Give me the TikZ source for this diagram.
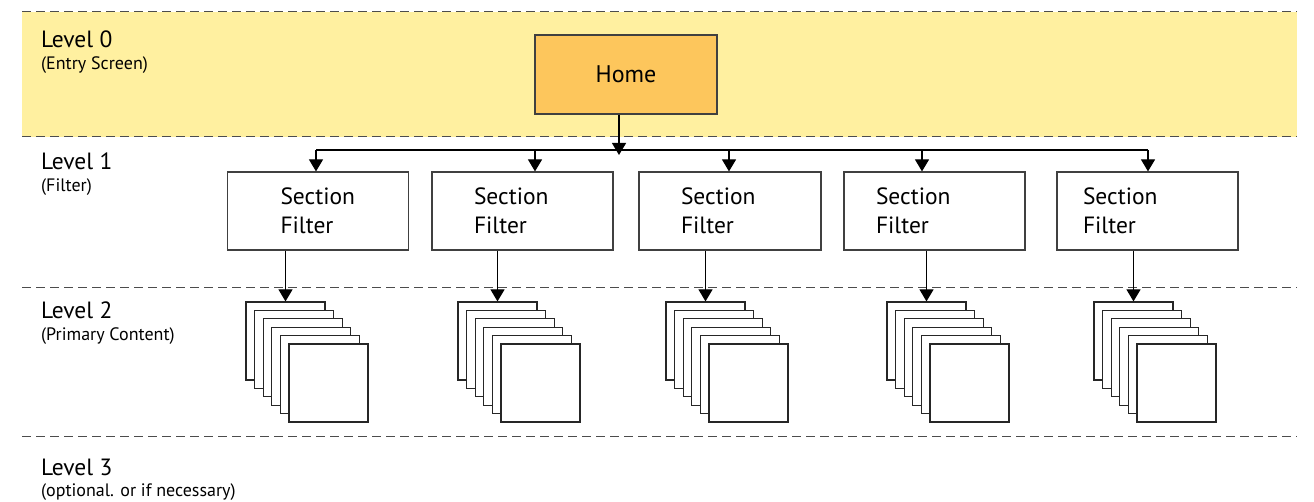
\documentclass[tikz,border=0pt]{standalone}
\usepackage{fontspec}
\setmainfont{PT Sans}
\usetikzlibrary{arrows.meta}
\definecolor{bandyellow}{RGB}{255,240,160}
\definecolor{homeorange}{RGB}{253,198,92}

\begin{document}
\begin{tikzpicture}[x=1pt, y=-1pt,
    arrow/.style = {draw, line width=1.2pt, -{Triangle[width=14pt,length=12pt]}},
    levelline/.style = {draw=black!70, line width=1pt, dash pattern=on 9pt off 5pt},
    levelname/.style = {anchor=base west, inner sep=0pt, font=\fontsize{23.5}{28}\selectfont},
    levelnote/.style = {anchor=base west, inner sep=0pt, font=\fontsize{18}{21}\selectfont},
    homebox/.style = {draw=black!75, line width=1.2pt, fill=homeorange, minimum width=182pt, minimum height=79pt, font=\fontsize{24}{28}\selectfont},
    filterbox/.style = {draw=black!75, line width=1.2pt, fill=white, minimum height=78pt, align=left, font=\fontsize{23.5}{29}\selectfont},
    page/.style = {draw=black!85, line width=1.2pt, fill=white, minimum width=79pt, minimum height=78pt, inner sep=0pt}]

    \useasboundingbox (0,0) rectangle (1314,502);
    \fill[bandyellow] (22,12) rectangle (1297,137);
    \foreach \y in {12, 137, 288, 436}
        \draw[levelline] (22,\y) -- (1297,\y);

    % level labels
    \node[levelname] (lvl0) at (41,48) {Level 0};
    \node[levelnote] (note0) at ([yshift=-22pt]lvl0.base west) {(Entry Screen)};
    \node[levelname] (lvl1) at (41,170) {Level 1};
    \node[levelnote] (note1) at ([yshift=-22pt]lvl1.base west) {(Filter)};
    \node[levelname] (lvl2) at (41,319) {Level 2};
    \node[levelnote] (note2) at ([yshift=-22pt]lvl2.base west) {(Primary Content)};
    \node[levelname] (lvl3) at (41,475) {Level 3};
    \node[levelnote] (note3) at ([yshift=-21pt]lvl3.base west) {(optional. or if necessary)};

    \node[homebox] (home) at (626,74.5) {Home};
    \coordinate (hub) at (619,155);

    % filters and their page stacks
    \foreach \i/\fx/\bx/\sx/\pad/\tw in {1/318/316/246/53/75, 2/522.5/535/458/42/97, 3/730/729/666/42/98,
                                         4/934.5/922/887/32/117, 5/1147.5/1148/1094/26/129} {
        \node[filterbox, inner xsep=\pad pt, text width=\tw pt] (filter\i) at (\fx,211) {Section\\Filter};
        \coordinate (branch\i) at (\bx,150);
        \draw[arrow] (branch\i) -- (branch\i |- filter\i.north);
        \foreach \j in {0,...,5}
            \node[page] (page\i-\j) at ({\sx+39.5+8.6*\j},{341+8.4*\j}) {};
        \draw[arrow] (page\i-0.north |- filter\i.south) -- (page\i-0.north);
    }

    \draw[line width=1.2pt] (branch1) -- (branch5);
    \draw[arrow] (hub |- home.south) -- (hub);
\end{tikzpicture}
\end{document}
